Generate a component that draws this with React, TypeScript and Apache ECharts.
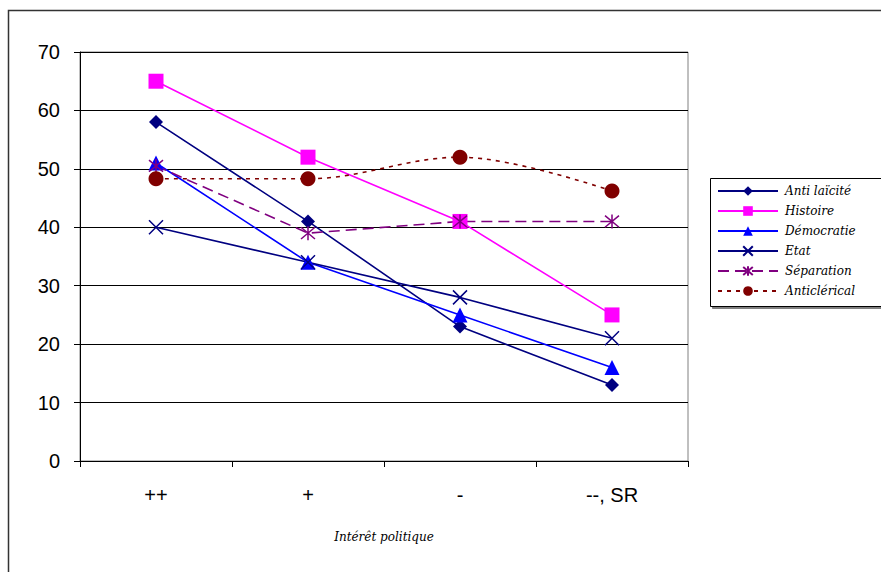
import React, { useEffect, useRef } from "react";
import * as echarts from "echarts";

const categories = ["++", "+", "-", "--, SR"];
const seriesNames = ["Anti laïcité", "Histoire", "Démocratie", "Etat", "Séparation", "Anticlérical"];
const antiLaicite = [58, 41, 23, 13];
const histoire = [65, 52, 41, 25];
const democratie = [51, 34, 25, 16];
const etat = [40, 34, 28, 21];
const separation = [50.5, 39, 41, 41];
const anticlerical = [48.3, 48.3, 52, 46.2];
const yTicks = [0, 10, 20, 30, 40, 50, 60, 70];

const X_PATH = "path://M0,0L10,10M10,0L0,10";
const AST_PATH = "path://M0,0L10,10M10,0L0,10M5,-1L5,11";

export default function App() {
  const ref = useRef<HTMLDivElement>(null);
  useEffect(() => {
    if (!ref.current) return;
    const chart = echarts.init(ref.current, undefined, { renderer: "svg" });
    const mk = (
      name: string,
      data: number[],
      color: string,
      symbol: string,
      symbolSize: number,
      lineType: any = "solid",
      extra: any = {}
    ) => ({
      name,
      type: "line",
      data,
      symbol,
      symbolSize,
      showAllSymbol: true,
      lineStyle: { color, width: 1.6, type: lineType },
      itemStyle: { color, borderColor: color, borderWidth: symbol.startsWith("path") ? 1.5 : 0 },
      emphasis: { disabled: true },
      z: 3,
      ...extra,
    });
    chart.setOption({
      animation: false,
      backgroundColor: "#ffffff",
      textStyle: { fontFamily: "Liberation Sans, Arial, sans-serif" },
      grid: {
        left: 80,
        top: 52,
        width: 608,
        height: 409,
        show: true,
        borderColor: "#808080",
        borderWidth: 1,
        containLabel: false,
      },
      xAxis: {
        type: "category",
        data: categories,
        boundaryGap: true,
        axisLine: { lineStyle: { color: "#000", width: 1 } },
        axisTick: { show: true, length: 6, lineStyle: { color: "#000" } },
        axisLabel: { color: "#000", fontSize: 20, margin: 24, fontFamily: "Liberation Sans, Arial, sans-serif" },
        name: "Intérêt politique",
        nameLocation: "middle",
        nameGap: 70,
        nameTextStyle: {
          color: "#000",
          fontSize: 12,
          fontStyle: "italic",
          fontFamily: "DejaVu Serif, serif",
        },
      },
      yAxis: {
        type: "value",
        min: yTicks[0],
        max: yTicks[yTicks.length - 1],
        interval: 10,
        axisLine: { show: true, lineStyle: { color: "#000", width: 1 } },
        axisTick: { show: true, length: 6, lineStyle: { color: "#000" } },
        axisLabel: { color: "#000", fontSize: 20, margin: 20, fontFamily: "Liberation Sans, Arial, sans-serif" },
        splitLine: { show: true, lineStyle: { color: "#000", width: 1 } },
      },
      legend: {
        orient: "vertical",
        left: 712,
        top: 180,
        itemWidth: 60,
        itemHeight: 12,
        itemGap: 8,
        data: seriesNames,
        textStyle: {
          color: "#000",
          fontSize: 12,
          fontStyle: "italic",
          fontFamily: "DejaVu Serif, serif",
          padding: [0, 0, 0, 2],
        },
        selectedMode: false,
      },
      graphic: [
        {
          type: "rect",
          shape: { x: 8.5, y: 10.5, width: 900, height: 600 },
          style: { fill: "none", stroke: "#333", lineWidth: 1.5 },
          silent: true,
          z: -10,
        },
        {
          type: "rect",
          shape: { x: 710.5, y: 178.5, width: 200, height: 128 },
          style: { fill: "#fff", stroke: "#000", lineWidth: 1, shadowColor: "rgba(0,0,0,0.5)", shadowOffsetY: 2, shadowOffsetX: 2 },
          silent: true,
          z: -1,
        },
      ],
      series: [
        mk(seriesNames[0], antiLaicite, "#000080", "diamond", 14),
        mk(seriesNames[1], histoire, "#FF00FF", "rect", 15),
        mk(seriesNames[2], democratie, "#0000FF", "triangle", 15),
        mk(seriesNames[3], etat, "#000080", X_PATH, 14),
        mk(seriesNames[4], separation, "#800080", AST_PATH, 14, [11, 6]),
        mk(seriesNames[5], anticlerical, "#800000", "circle", 15, [4, 5], { smooth: 0.35 }),
      ],
    });
    return () => chart.dispose();
  }, []);
  return (
    <div
      ref={ref}
      style={{ position: "absolute", left: 0, top: 0, width: 881, height: 572 }}
    />
  );
}
